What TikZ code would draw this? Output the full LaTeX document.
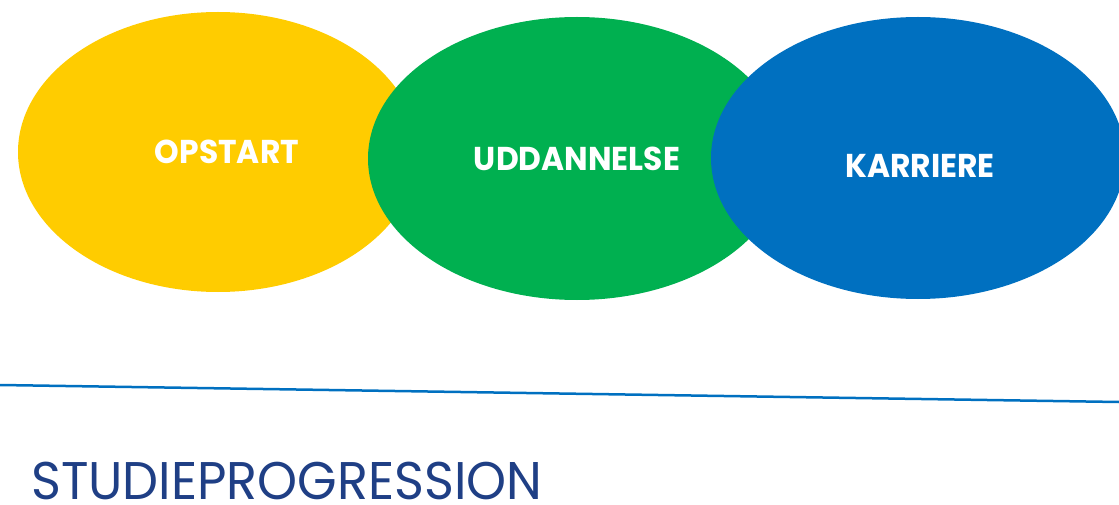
\documentclass[tikz,border=0pt]{standalone}
\usepackage{fontspec}
\usepackage{tikz}
\usetikzlibrary{shapes.geometric}
\setmainfont{Poppins}
\newfontfamily\blobfont[FakeStretch=0.95]{Poppins}
\newfontfamily\titlefont[FakeStretch=0.96]{Poppins}
\definecolor{opyellow}{HTML}{FFCC00}
\definecolor{udgreen}{HTML}{00B050}
\definecolor{kablue}{HTML}{0070C0}
\definecolor{titleblue}{HTML}{1F3F85}

\begin{document}
\begin{tikzpicture}[x=1pt,y=-1pt,
	blob/.style={ellipse, inner sep=0pt, draw=none},
	blobtext/.style={text=white, font=\blobfont\bfseries\fontsize{33}{33}\selectfont, inner sep=0pt}]
	\useasboundingbox (0,0) rectangle (1119,505);
	% the three phases
	\node[blob, fill=opyellow, minimum width=400pt, minimum height=280pt] (opstart) at (218,152) {};
	\node[blobtext] (opstarttxt) at (227,152) {OPSTART};
	\node[blob, fill=udgreen, minimum width=418pt, minimum height=283pt] (uddannelse) at (577,158.5) {};
	\node[blobtext] (uddannelsetxt) at (577,159) {UDDANNELSE};
	\node[blob, fill=kablue, minimum width=414pt, minimum height=282pt] (karriere) at (918,158) {};
	\node[blobtext] (karrieretxt) at (920,166) {KARRIERE};
	% divider
	\coordinate (lineleft) at (0,385);
	\coordinate (lineright) at (1119,402);
	\draw[kablue, line width=2.5pt] (lineleft) -- (lineright);
	\node[anchor=base west, inner sep=0pt, text depth=0pt, text=titleblue, font=\titlefont\fontsize{53}{53}\selectfont] (title) at (31,499) {STUDIEPROGRESSION};
\end{tikzpicture}
\end{document}
